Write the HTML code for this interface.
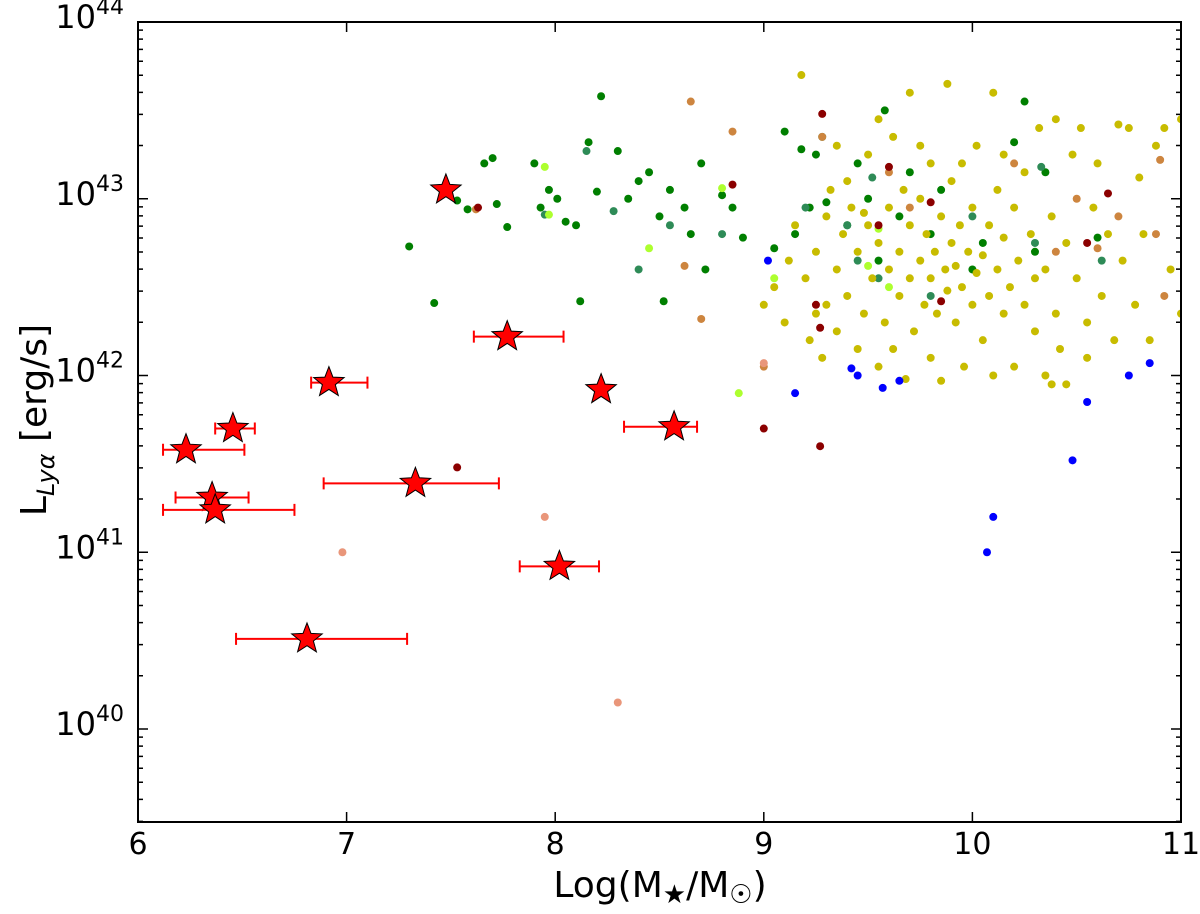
<!DOCTYPE html>
<html><head><meta charset="utf-8"><style>
body{margin:0;background:#fff}
svg text{font-family:"DejaVu Sans","Liberation Sans",sans-serif;fill:#000}
</style></head><body>
<svg id="chart" width="1200" height="909" xmlns="http://www.w3.org/2000/svg">
<g id="marks"></g>
<g id="axes"></g>
<text x="660" y="897" font-size="36" text-anchor="middle">Log(M<tspan font-size="26" dy="6">★</tspan><tspan dy="-6">/M</tspan><tspan font-size="26" dy="6">☉</tspan><tspan dy="-6">)</tspan></text>
<text transform="translate(46,420) rotate(-90)" font-size="36" text-anchor="middle">L<tspan font-size="24" dy="8" font-style="italic">Lyα</tspan><tspan dy="-8"> [erg/s]</tspan></text>
</svg>
<script>
const xTicks=[6,7,8,9,10,11];
const yDecades=[40,41,42,43,44];
const starM=[7.476,7.77,6.915,8.22,6.455,8.57,6.23,6.355,7.33,6.37,8.02,6.81];
const starL=[43.05,42.22,41.96,41.92,41.70,41.71,41.58,41.31,41.39,41.24,40.92,40.51];
const starLo=[null,7.61,6.83,null,6.37,8.33,6.12,6.18,6.89,6.12,7.83,6.47];
const starHi=[null,8.04,7.10,null,6.56,8.68,6.51,6.53,7.73,6.75,8.21,7.29];
const green=[7.30,42.73,7.42,42.41,7.53,42.99,7.58,42.94,7.66,43.20,7.70,43.23,7.72,42.97,7.77,42.84,7.90,43.20,7.93,42.95,7.97,43.05,8.01,43.00,8.05,42.87,8.10,42.85,8.12,42.42,8.16,43.32,8.20,43.04,8.22,43.58,8.30,43.27,8.35,43.0,8.40,43.1,8.45,43.15,8.50,42.90,8.52,42.42,8.55,43.05,8.62,42.95,8.65,42.80,8.70,43.20,8.72,42.60,8.80,43.02,8.85,42.95,8.90,42.78,9.05,42.72,9.10,43.38,9.15,42.80,9.18,43.28,9.22,42.95,9.25,43.25,9.30,42.98,9.40,42.85,9.45,43.20,9.50,43.0,9.55,42.65,9.58,43.5,9.65,42.90,9.70,43.15,9.80,42.80,9.85,43.05,10.0,42.60,10.05,42.75,10.2,43.32,10.25,43.55,10.3,42.70,10.35,43.15,10.6,42.78];
const teal=[7.95,42.91,8.15,43.27,8.28,42.93,8.40,42.60,8.55,42.85,8.80,42.80,9.20,42.95,9.28,43.35,9.40,42.85,9.45,42.65,9.52,43.12,9.55,42.55,9.80,42.45,10.0,42.90,10.3,42.75,10.33,43.18,10.62,42.65];
const lime=[7.95,43.18,7.97,42.91,8.45,42.72,8.80,43.06,8.88,41.90,9.05,42.55,9.50,42.62,9.55,42.83,9.60,42.50];
const brown=[7.62,42.94,8.62,42.62,8.65,43.55,8.70,42.32,8.85,43.38,9.0,42.05,9.28,43.35,9.60,43.15,9.70,42.95,10.2,43.2,10.4,42.70,10.6,42.72,10.9,43.22,10.88,42.80,10.92,42.45,10.7,42.90,10.5,43.0];
const darkred=[7.53,41.48,7.63,42.95,8.85,43.08,9.0,41.70,9.25,42.40,9.27,42.27,9.27,41.60,9.28,43.48,9.55,42.85,9.60,43.18,9.80,42.98,9.85,42.42,10.65,43.03,10.55,42.75];
const blue=[9.02,42.65,9.15,41.90,9.42,42.04,9.45,42.00,9.57,41.93,9.65,41.97,10.07,41.0,10.10,41.20,10.48,41.52,10.55,41.85,10.75,42.0,10.85,42.07];
const salmon=[6.98,41.0,7.95,41.20,8.30,40.15,9.0,42.07];
const olive=[9.00,42.40,9.05,42.50,9.10,42.30,9.12,42.65,9.15,42.85,9.18,43.70,9.20,42.55,9.22,42.20,9.25,42.70,9.28,42.10,9.30,42.40,9.30,42.90,9.32,43.05,9.35,42.60,9.35,42.25,9.38,42.80,9.40,43.10,9.40,42.45,9.42,42.95,9.45,42.15,9.45,42.70,9.48,42.35,9.50,42.85,9.50,43.25,9.52,42.55,9.55,42.05,9.55,42.75,9.58,42.30,9.60,42.95,9.60,42.60,9.62,42.15,9.62,43.35,9.65,42.70,9.65,42.45,9.67,43.05,9.68,41.98,9.70,42.85,9.70,42.55,9.70,43.60,9.72,42.25,9.75,42.65,9.75,43.00,9.77,42.40,9.78,42.80,9.80,42.10,9.80,42.55,9.80,43.20,9.82,42.70,9.83,42.35,9.85,42.90,9.85,41.97,9.87,42.60,9.88,43.65,9.88,42.48,9.90,42.75,9.90,43.10,9.92,42.30,9.92,42.62,9.94,42.85,9.95,42.50,9.96,42.05,9.98,42.70,10.00,42.95,10.00,42.40,10.02,42.58,10.02,43.30,10.05,42.20,10.05,42.68,10.08,42.45,10.08,42.85,10.10,42.00,10.10,43.60,10.12,42.60,10.12,43.05,10.15,42.35,10.15,42.78,10.18,42.50,10.20,42.05,10.20,42.95,10.22,42.65,10.25,42.40,10.25,43.15,10.28,42.80,10.30,42.55,10.30,42.25,10.32,43.40,10.35,42.60,10.35,42.00,10.38,42.90,10.40,42.35,10.40,43.45,10.42,42.15,10.45,42.75,10.45,41.95,10.48,43.25,10.50,42.55,10.52,43.40,10.55,42.30,10.58,42.95,10.60,43.20,10.62,42.45,10.65,42.80,10.70,43.42,10.72,42.65,10.75,43.40,10.78,42.40,10.80,43.12,10.82,42.80,10.85,42.20,10.88,43.30,10.92,43.40,10.95,42.60,11.0,42.35,11.0,43.45,9.55,43.45,9.75,43.30,9.35,43.30,10.15,43.25,9.95,43.20,9.25,42.35,9.48,42.92,10.55,42.10,10.68,42.20,10.38,41.95];

const L=138,R=1181,T=22,B=822;
const xS=v=>L+(v-6)*(R-L)/5;
const yS=v=>729-(v-40)*176.75;
const NS="http://www.w3.org/2000/svg";
const marks=document.getElementById('marks'),axes=document.getElementById('axes');
function mk(tag,attrs,parent){const e=document.createElementNS(NS,tag);for(const k in attrs)e.setAttribute(k,attrs[k]);parent.appendChild(e);return e;}
const clip=mk('clipPath',{id:'pc'},document.getElementById('chart'));
mk('rect',{x:L,y:T,width:R-L,height:B-T},clip);
marks.setAttribute('clip-path','url(#pc)');
const groups=[[green,'#007f00','green-dot'],[teal,'#2e8b57','teal-dot'],[lime,'#adff2f','lime-dot'],[olive,'#c8bc00','olive-dot'],[brown,'#cd853f','brown-dot'],[darkred,'#8b0000','darkred-dot'],[blue,'#0000ff','blue-dot'],[salmon,'#e9967a','salmon-dot']];
groups.forEach(([arr,col,name])=>{for(let i=0;i<arr.length;i+=2){
 const c=mk('circle',{cx:xS(arr[i]),cy:yS(arr[i+1]),r:4,fill:col},marks);
 
 
}});
function starPts(cx,cy,ro,ri){let p=[];for(let k=0;k<10;k++){const a=-Math.PI/2+k*Math.PI/5,r=k%2?ri:ro;p.push((cx+r*Math.cos(a)).toFixed(1)+','+(cy+r*Math.sin(a)).toFixed(1));}return p.join(' ');}
for(let i=0;i<starM.length;i++){
 const cx=xS(starM[i]),cy=yS(starL[i]);
 if(starLo[i]!==null){
  const x1=xS(starLo[i]),x2=xS(starHi[i]);
  const eb=mk('path',{d:`M${x1},${cy}H${x2}M${x1},${cy-6}V${cy+6}M${x2},${cy-6}V${cy+6}`,stroke:'#ff0000','stroke-width':2,fill:'none'},marks);
  
  
 }
 const s=mk('polygon',{points:starPts(cx,cy,16,6.8),fill:'#ff0000',stroke:'#000','stroke-width':1},marks);
 
 
}
const fr=mk('rect',{x:L,y:T,width:R-L,height:B-T,fill:'none',stroke:'#000','stroke-width':2},axes);


let d='';
xTicks.forEach(v=>{const x=xS(v);d+=`M${x},${B}v-10M${x},${T}v10`;
 const t=mk('text',{x:x,y:B+32,'font-size':30,'text-anchor':'middle'},axes);t.textContent=v;
 
 
});
yDecades.forEach(v=>{const y=yS(v);d+=`M${L},${y}h10M${R},${y}h-10`;
 const t=mk('text',{x:124,y:y+6,'font-size':32,'text-anchor':'end'},axes);
 t.innerHTML='10<tspan font-size="22" dy="-14">'+v+'</tspan>';
 
 
});
for(let dd=39;dd<44;dd++)for(let m=2;m<10;m++){const v=dd+Math.log10(m);if(v<39.47)continue;const y=yS(v);d+=`M${L},${y}h5M${R},${y}h-5`;}
mk('path',{d:d,stroke:'#000','stroke-width':1.5,fill:'none'},axes);
</script>
</body></html>
